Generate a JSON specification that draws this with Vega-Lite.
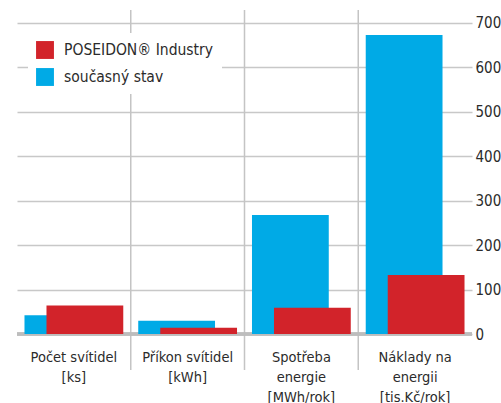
{
  "$schema": "https://vega.github.io/schema/vega-lite/v6.json",
  "width": 455,
  "height": 360,
  "autosize": {"type": "none"},
  "padding": {"left": 17, "top": 10, "right": 29, "bottom": 33},
  "background": "white",
  "config": {
    "font": "'DejaVu Sans Condensed', 'Liberation Sans Narrow', Roboto, sans-serif",
    "view": {"stroke": null}
  },
  "data": {
    "values": [
      {"cat": "Počet svítidel|[ks]", "series": "současný stav", "value": 42},
      {"cat": "Počet svítidel|[ks]", "series": "POSEIDON® Industry", "value": 64},
      {"cat": "Příkon svítidel|[kWh]", "series": "současný stav", "value": 30},
      {"cat": "Příkon svítidel|[kWh]", "series": "POSEIDON® Industry", "value": 14},
      {"cat": "Spotřeba|energie|[MWh/rok]", "series": "současný stav", "value": 268},
      {"cat": "Spotřeba|energie|[MWh/rok]", "series": "POSEIDON® Industry", "value": 59},
      {"cat": "Náklady na|energii|[tis.Kč/rok]", "series": "současný stav", "value": 673},
      {"cat": "Náklady na|energii|[tis.Kč/rok]", "series": "POSEIDON® Industry", "value": 133}
    ]
  },
  "encoding": {
    "x": {
      "field": "cat",
      "type": "nominal",
      "sort": null,
      "scale": {"domain": ["Počet svítidel|[ks]", "Příkon svítidel|[kWh]", "Spotřeba|energie|[MWh/rok]", "Náklady na|energii|[tis.Kč/rok]"], "paddingInner": 0, "paddingOuter": 0},
      "axis": {
        "title": null,
        "orient": "bottom",
        "domain": false,
        "ticks": false,
        "grid": false,
        "labelAngle": 0,
        "labelExpr": "split(datum.label, '|')",
        "labelPadding": -20,
        "labelBaseline": "top",
        "labelFontSize": 14.5,
        "labelLineHeight": 20,
        "labelColor": "#2b2b2b"
      }
    }
  },
  "layer": [
    {
      "transform": [
        {"filter": "datum.series == 'současný stav' && datum.cat != 'Počet svítidel|[ks]'"}
      ],
      "mark": {"type": "rule", "color": "#c4c4c4", "strokeWidth": 1.5},
      "encoding": {
        "x": {"field": "cat", "type": "nominal", "sort": null, "bandPosition": 0},
        "y": {"datum": -81},
        "y2": {"datum": 729}
      }
    },
    {
      "mark": {"type": "rule", "color": "#bdbdbd", "strokeWidth": 2.5},
      "encoding": {
        "x": {"value": 0},
        "x2": {"value": 455},
        "y": {"datum": 0}
      }
    },
    {
      "transform": [{"filter": "datum.series == 'současný stav'"}],
      "mark": {"type": "bar", "width": {"band": 0.675}, "xOffset": -11},
      "encoding": {
        "y": {
          "field": "value",
          "type": "quantitative",
          "scale": {"domain": [-81, 729], "nice": false, "zero": false},
          "axis": {
            "title": null,
            "orient": "right",
            "values": [0, 50, 100, 150, 200, 250, 300, 350, 400, 450, 500, 550, 600, 650, 700],
            "labelExpr": "datum.value % 100 == 0 ? datum.label : ''",
            "grid": true,
            "gridColor": "#c8c8c8",
            "gridWidth": 1.5,
            "domain": false,
            "ticks": false,
            "labelPadding": 3,
            "labelFontSize": 15,
            "labelColor": "#2b2b2b"
          }
        },
        "color": {
          "field": "series",
          "type": "nominal",
          "scale": {"domain": ["POSEIDON® Industry", "současný stav"], "range": ["#d2232a", "#00aae6"]},
          "legend": {
            "title": null,
            "orient": "none",
            "legendX": 11,
            "legendY": 23,
            "fillColor": "white",
            "padding": 8,
            "symbolType": "square",
            "symbolSize": 320,
            "symbolStrokeWidth": 0,
            "labelFontSize": 15.5,
            "labelLimit": 300,
            "labelColor": "#2b2b2b",
            "labelOffset": 10,
            "rowPadding": 9,
            "symbolOpacity": 1
          }
        }
      }
    },
    {
      "transform": [{"filter": "datum.series == 'POSEIDON® Industry'"}],
      "mark": {"type": "bar", "width": {"band": 0.675}, "xOffset": 11},
      "encoding": {
        "y": {"field": "value", "type": "quantitative"},
        "color": {"field": "series", "type": "nominal"}
      }
    }
  ]
}
